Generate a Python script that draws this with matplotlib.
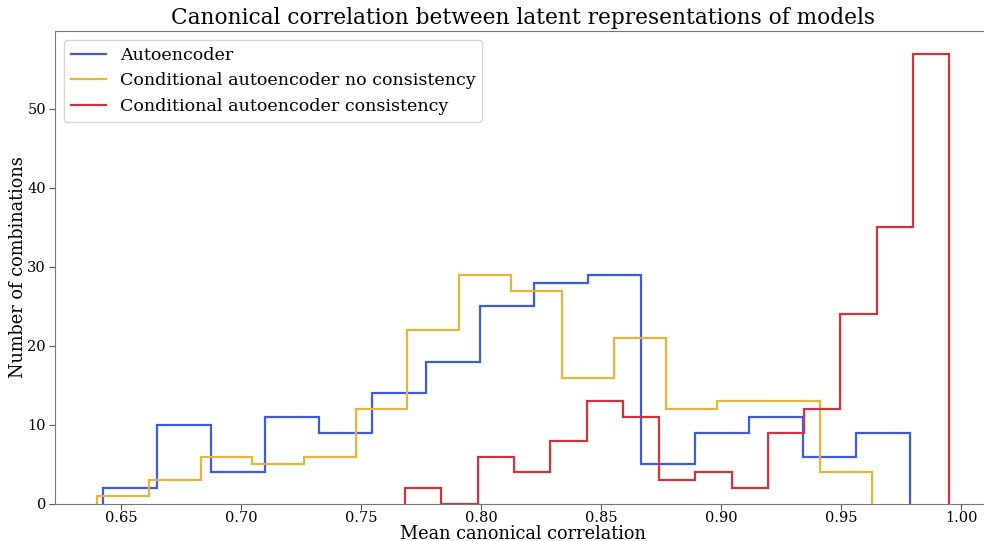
import numpy as np
import matplotlib.pyplot as plt

# histogram counts (15 bins each)
ae_counts = [2, 10, 4, 11, 9, 14, 18, 25, 28, 29, 5, 9, 11, 6, 9]
ae_range = (0.6425, 0.9788)

cae_nc_counts = [1, 3, 6, 5, 6, 12, 22, 29, 27, 16, 21, 12, 13, 13, 4]
cae_nc_range = (0.6400, 0.9629)

cae_c_counts = [2, 0, 6, 4, 8, 13, 11, 3, 4, 2, 9, 12, 24, 35, 57]
cae_c_range = (0.7683, 0.9950)

labels = ["Autoencoder",
          "Conditional autoencoder no consistency",
          "Conditional autoencoder consistency"]
colors = ["#3d5ae0", "#e8b43c", "#d13438"]

plt.rcParams['font.family'] = ['DejaVu Serif']

fig = plt.figure(figsize=(9.84, 5.41), dpi=100)
ax = fig.add_axes([0.0559, 0.0684, 0.952, 0.8743])

for counts, rng, col, lab in zip([ae_counts, cae_nc_counts, cae_c_counts],
                                 [ae_range, cae_nc_range, cae_c_range],
                                 colors, labels):
    edges = np.linspace(rng[0], rng[1], len(counts) + 1)
    ax.stairs(counts, edges, color=col, linewidth=1.6, label=lab)

ax.set_xlim(0.6223, 1.0128)
ax.set_ylim(0, 59.85)
ax.set_xticks([0.65, 0.70, 0.75, 0.80, 0.85, 0.90, 0.95, 1.00])
ax.set_xticklabels(["%.2f" % t for t in ax.get_xticks()])
ax.tick_params(labelsize=10.5, color='#555555', length=4, pad=2.5)
ax.tick_params(axis='x', pad=0.8)
for s in ax.spines.values():
    s.set_color('#777777')

ax.set_title("Canonical correlation between latent representations of models", fontsize=15.6, pad=5)
ax.set_xlabel("Mean canonical correlation", fontsize=12.8, labelpad=0)
ax.set_ylabel("Number of combinations", fontsize=12.8, labelpad=0)
ax.legend(loc='upper left', fontsize=12.6, handlelength=2.0, borderaxespad=0.5)

fig.savefig("out.png", dpi=100)
